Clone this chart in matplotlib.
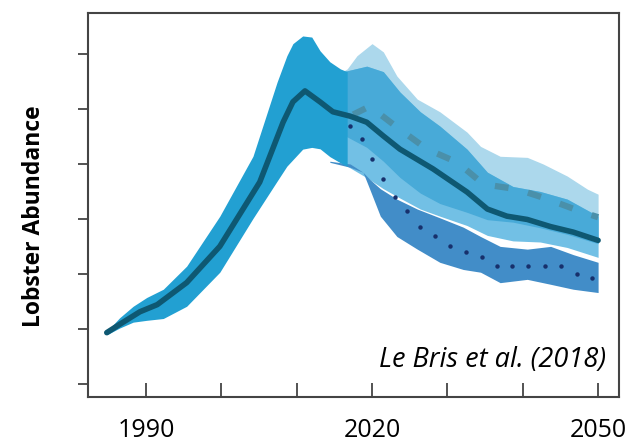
import matplotlib
matplotlib.use("Agg")
import matplotlib.pyplot as plt
import numpy as np

# historical band + mean
hist_years = [1984.8, 1986.5, 1988.3, 1990.1, 1992.3, 1995.4, 1999.8, 2004.2, 2007.4, 2008.7, 2009.5,
              2010.8, 2012.0, 2013.1, 2014.4, 2015.8, 2016.7]
hist_hi = [0.95, 1.20, 1.41, 1.57, 1.72, 2.14, 3.05, 4.14, 5.49, 5.97, 6.19,
           6.33, 6.31, 6.06, 5.86, 5.73, 5.68]
hist_lo_years = [1984.8, 1987.0, 1989.2, 1991.5, 1995.4, 1999.8, 2004.7, 2008.7, 2010.8, 2012.7, 2014.8, 2016.7]
hist_lo = [0.89, 1.05, 1.17, 1.13, 1.41, 2.03, 3.12, 3.96, 4.27, 4.32, 4.09, 3.96]

main_years = [1984.8, 1986.5, 1989.2, 1991.5, 1995.4, 1999.8, 2005.1, 2008.2, 2009.5, 2011.1, 2013.1, 2014.8,
              2017.1, 2019.3, 2021.5, 2023.7, 2028.1, 2032.6, 2035.3, 2037.9, 2040.6, 2043.7, 2046.7, 2050]
main_vals = [0.93, 1.08, 1.31, 1.44, 1.84, 2.50, 3.67, 4.76, 5.13, 5.33, 5.13, 4.95,
             4.87, 4.76, 4.51, 4.27, 3.91, 3.49, 3.18, 3.05, 2.99, 2.86, 2.76, 2.61]

# upper scenario (dashed)
up_years = [2015.0, 2016.7, 2018.0, 2020.0, 2021.5, 2023.3, 2026.0, 2029.0, 2032.6, 2034.4, 2037.0, 2040.6, 2042.7, 2045.9, 2048.6, 2050]
up_hi = [5.60, 5.73, 5.97, 6.19, 6.04, 5.60, 5.18, 4.95, 4.58, 4.32, 4.14, 4.12, 4.00, 3.78, 3.54, 3.45]
up_lo = [4.60, 4.50, 4.40, 4.25, 4.05, 3.80, 3.50, 3.28, 3.12, 3.00, 2.96, 2.92, 2.82, 2.72, 2.60, 2.55]
dash_years = [2017.5, 2019.7, 2023.3, 2027.3, 2031.3, 2034.8, 2039.3, 2043.3, 2047.6, 2050]
dash_vals = [4.90, 5.05, 4.67, 4.27, 4.03, 3.63, 3.54, 3.36, 3.14, 3.03]

# middle scenario (solid)
mid_years = [2015.0, 2016.2, 2019.3, 2021.5, 2023.7, 2026.4, 2029.0, 2032.6, 2035.3, 2038.7, 2042.3, 2045.9, 2050]
mid_hi = [5.60, 5.68, 5.78, 5.68, 5.31, 4.95, 4.69, 4.27, 3.85, 3.59, 3.50, 3.36, 3.05]
mid_lo = [4.10, 4.00, 3.75, 3.55, 3.38, 3.18, 3.05, 2.88, 2.70, 2.60, 2.58, 2.48, 2.30]

# lower scenario (dotted)
low_years = [2014.4, 2017.1, 2018.8, 2019.7, 2021.1, 2023.3, 2026.0, 2029.0, 2032.1, 2034.4, 2037.0, 2040.6, 2043.7, 2046.7, 2050]
low_hi = [4.05, 4.00, 3.85, 3.72, 3.55, 3.36, 3.18, 3.02, 2.85, 2.68, 2.50, 2.45, 2.50, 2.35, 2.21]
low_lo = [4.03, 3.94, 3.85, 3.54, 3.05, 2.68, 2.45, 2.21, 2.08, 2.03, 1.84, 1.90, 1.81, 1.72, 1.66]
dot_years = [2017.1, 2018.7, 2020.0, 2021.5, 2023.1, 2024.7, 2026.4, 2028.4, 2030.4, 2032.5, 2034.6,
             2036.6, 2038.6, 2040.7, 2043.0, 2045.1, 2047.2, 2049.2]
dot_vals = [4.69, 4.45, 4.09, 3.72, 3.39, 3.14, 2.86, 2.68, 2.50, 2.39, 2.30,
            2.15, 2.14, 2.14, 2.15, 2.14, 1.99, 1.93]

x_ticks = [1990, 2000, 2010, 2020, 2030, 2040, 2050]
x_labels = ["1990", "", "", "2020", "", "", "2050"]
y_ticks = [0, 1, 2, 3, 4, 5, 6]

fig = plt.figure(figsize=(6.28, 4.44), dpi=100)
ax = fig.add_axes([0.140, 0.106, 0.846, 0.865])

# scenario bands
ax.fill_between(up_years, up_hi, up_lo, color="#acd8ec", lw=0)
ax.fill_between(mid_years, mid_hi, mid_lo, color="#72c0e5", lw=0)
# overlap of upper and middle bands
ov_lo = np.maximum(np.interp(mid_years, up_years, up_lo), mid_lo)
ov_hi = np.minimum(np.interp(mid_years, up_years, up_hi), mid_hi)
ax.fill_between(mid_years, ov_hi, ov_lo, where=ov_hi > ov_lo, interpolate=True, color="#48aad8", lw=0)
ax.fill_between(low_years, low_hi, low_lo, color="#428dc8", lw=0)

# historical band
hlo = np.interp(hist_years, hist_lo_years, hist_lo)
ax.fill_between(hist_years, hist_hi, hlo, color="#22a0d2", lw=0)

ax.plot(dash_years, dash_vals, color="#4a90aa", lw=4.5, dashes=(2.2, 3.2))
ax.plot(main_years, main_vals, color="#0e5872", lw=4, solid_capstyle="round", solid_joinstyle="round")
ax.plot(dot_years, dot_vals, "o", color="#17306c", ms=3.2, mec="none")

ax.set_xlim(1982.3, 2052.8)
ax.set_ylim(-0.24, 6.75)
ax.set_xticks(x_ticks)
ax.set_xticklabels(x_labels, fontsize=18, fontfamily="Open Sans")
ax.set_yticks(y_ticks)
ax.set_yticklabels([])
ax.tick_params(axis="x", direction="in", length=10, width=1.3, color="#444444", pad=15)
ax.tick_params(axis="y", direction="out", length=7, width=1.3, color="#444444")
for s in ax.spines.values():
    s.set_color("#444444")
    s.set_linewidth(1.5)

ax.set_ylabel("Lobster Abundance", fontsize=16.5, fontweight="bold", fontfamily="Open Sans")
ax.yaxis.set_label_coords(-0.078, 0.47)
ax.text(2051.0, 0.44, "Le Bris et al. (2018)", fontsize=19.5, style="italic", fontfamily="Open Sans",
        ha="right", va="center")

fig.savefig("out.png", dpi=100)
